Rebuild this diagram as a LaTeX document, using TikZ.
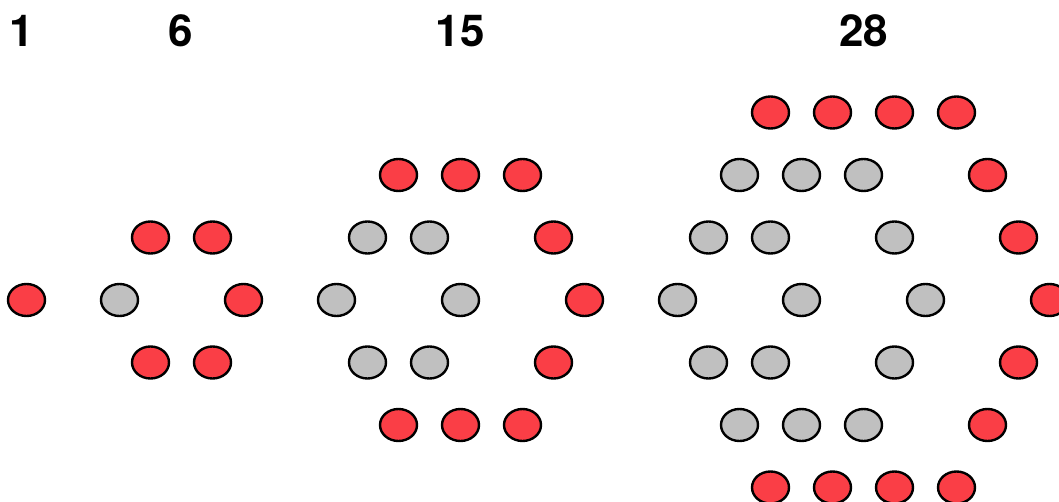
\documentclass[tikz,border=0pt]{standalone}
\usepackage{fontspec}
\setmainfont{TeX Gyre Heros}
\usetikzlibrary{shapes.geometric}
\definecolor{dotred}{RGB}{250,62,70}
\definecolor{dotgray}{RGB}{192,192,192}
\tikzset{
  dotbase/.style={ellipse, draw=black, line width=2.4pt, minimum width=37pt, minimum height=32pt, inner sep=0pt},
  rdot/.style={dotbase, fill=dotred},
  gdot/.style={dotbase, fill=dotgray},
  numlabel/.style={font=\fontsize{44}{44}\selectfont\bfseries, inner sep=0pt, anchor=center}
}
\begin{document}
\begin{tikzpicture}[x=1pt,y=-1pt]
\useasboundingbox (0,0) rectangle (1059,502);
% labels
\node[numlabel] (l1) at (22,31) {1};
\node[numlabel] (l6) at (181,31) {6};
\node[numlabel] (l15) at (460,31) {15};
\node[numlabel] (l28) at (863.5,31) {28};
% pattern 1
\node[rdot] (a1) at (26.5,300) {};
% pattern 6 (center 119.5)
\node[gdot] (b0) at (119.5,300) {};
\node[rdot] (b1) at (150.5,237.5) {};
\node[rdot] (b2) at (212.5,237.5) {};
\node[rdot] (b3) at (243.5,300) {};
\node[rdot] (b4) at (150.5,362.5) {};
\node[rdot] (b5) at (212.5,362.5) {};
% pattern 15 (center 460.5)
\foreach \x [count=\i] in {398.5,460.5,522.5} {
  \node[rdot] (c-t\i) at (\x,175) {};
  \node[rdot] (c-b\i) at (\x,425) {};
}
\foreach \x [count=\i] in {367.5,429.5} {
  \node[gdot] (c-g2\i) at (\x,237.5) {};
  \node[gdot] (c-g4\i) at (\x,362.5) {};
}
\node[rdot] (c-r2) at (553.5,237.5) {};
\node[rdot] (c-r4) at (553.5,362.5) {};
\node[gdot] (c-g31) at (336.5,300) {};
\node[gdot] (c-g32) at (460.5,300) {};
\node[rdot] (c-r3) at (584.5,300) {};
% pattern 28 (center 801.5)
\foreach \x [count=\i] in {770.5,832.5,894.5,956.5} {
  \node[rdot] (d-t\i) at (\x,112.5) {};
  \node[rdot] (d-b\i) at (\x,487.5) {};
}
\foreach \x [count=\i] in {739.5,801.5,863.5} {
  \node[gdot] (d-g2\i) at (\x,175) {};
  \node[gdot] (d-g6\i) at (\x,425) {};
}
\node[rdot] (d-r2) at (987.5,175) {};
\node[rdot] (d-r6) at (987.5,425) {};
\foreach \x [count=\i] in {708.5,770.5,894.5} {
  \node[gdot] (d-g3\i) at (\x,237.5) {};
  \node[gdot] (d-g5\i) at (\x,362.5) {};
}
\node[rdot] (d-r3) at (1018.5,237.5) {};
\node[rdot] (d-r5) at (1018.5,362.5) {};
\foreach \x [count=\i] in {677.5,801.5,925.5} {
  \node[gdot] (d-g4\i) at (\x,300) {};
}
\node[rdot] (d-r4) at (1049.5,300) {};
\end{tikzpicture}
\end{document}
